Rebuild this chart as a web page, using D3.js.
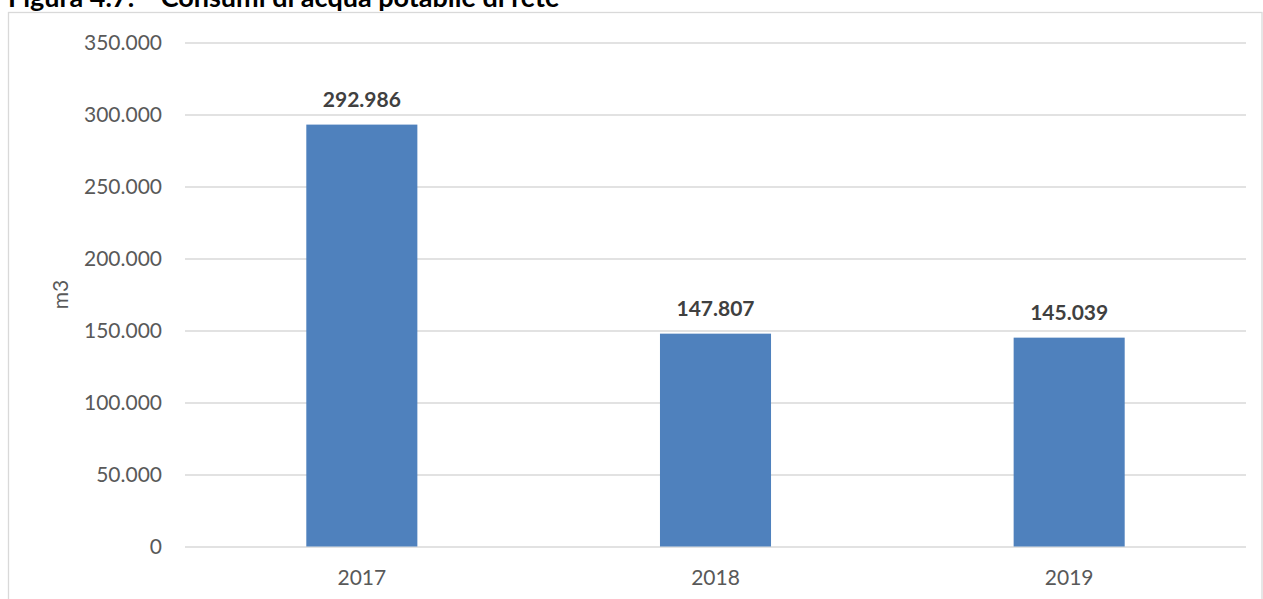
<!DOCTYPE html>
<html>
<head>
<meta charset="utf-8">
<script src="https://cdn.jsdelivr.net/npm/d3@7"></script>
<style>
  html, body { margin: 0; padding: 0; background: #ffffff; }
  svg { display: block; font-family: Lato, "Open Sans", sans-serif; }
</style>
</head>
<body>
<svg id="chart" width="1263" height="599"></svg>
<script>
// Consumi di acqua potabile di rete (m3)
const years = ["2017", "2018", "2019"];
const consumi = [292986, 147807, 145039];
const yTicks = [0, 50000, 100000, 150000, 200000, 250000, 300000, 350000];
const titolo = "Figura 4.7:    Consumi di acqua potabile di rete";
const unita = "m3";

const W = 1263, H = 599;
const plot = { left: 185, right: 1246, top: 42.5, bottom: 546.5 };

const it = d3.formatLocale({ decimal: ",", thousands: ".", grouping: [3], currency: ["€", ""] });
const fmt = it.format(",d");

const svg = d3.select("#chart");

// chart frame
svg.append("rect")
  .attr("x", 8.5).attr("y", 12.5)
  .attr("width", 1253.5).attr("height", H)
  .attr("fill", "#ffffff")
  .attr("stroke", "#d9d9d9").attr("stroke-width", 1.3);

// caption above the frame
svg.append("text")
  .attr("x", 8).attr("y", 7)
  .attr("font-size", 27).attr("font-weight", "bold")
  .attr("fill", "#000000")
  .style("white-space", "pre")
  .attr("xml:space", "preserve")
  .text(titolo);

const x = d3.scaleBand()
  .domain(years)
  .range([plot.left, plot.right])
  .paddingInner(0.686)
  .paddingOuter(0.343);

const y = d3.scaleLinear()
  .domain([0, 350000])
  .range([plot.bottom, plot.top]);

// gridlines + value axis labels
const yAxis = d3.axisLeft(y)
  .tickValues(yTicks)
  .tickFormat(fmt)
  .tickSize(-(plot.right - plot.left))
  .tickPadding(23);

const gy = svg.append("g")
  .attr("transform", `translate(${plot.left},0)`)
  .call(yAxis);
gy.select(".domain").remove();
gy.selectAll(".tick line").attr("stroke", "#d9d9d9").attr("stroke-width", 1.4);
gy.selectAll(".tick text")
  .attr("font-size", 21)
  .attr("font-family", "Lato, sans-serif")
  .attr("fill", "#595959");

// bars
svg.append("g").selectAll("rect")
  .data(years)
  .join("rect")
  .attr("x", d => x(d))
  .attr("width", x.bandwidth())
  .attr("y", (d, i) => y(consumi[i]))
  .attr("height", (d, i) => y(0) - y(consumi[i]))
  .attr("fill", "#4f81bd");

// value labels
svg.append("g").selectAll("text")
  .data(years)
  .join("text")
  .attr("x", d => x(d) + x.bandwidth() / 2)
  .attr("y", (d, i) => y(consumi[i]) - 18)
  .attr("text-anchor", "middle")
  .attr("font-size", 21)
  .attr("font-weight", "bold")
  .attr("fill", "#404040")
  .text((d, i) => fmt(consumi[i]));

// category axis
const xAxis = d3.axisBottom(x).tickSize(0).tickPadding(24);
const gx = svg.append("g")
  .attr("transform", `translate(0,${plot.bottom})`)
  .call(xAxis);
gx.select(".domain").remove();
gx.selectAll(".tick text")
  .attr("font-size", 21)
  .attr("font-family", "Lato, sans-serif")
  .attr("fill", "#595959");

// unit label, centred on the plot area
svg.append("text")
  .attr("transform", `translate(68,${(plot.top + plot.bottom) / 2}) rotate(-90)`)
  .attr("text-anchor", "middle")
  .attr("font-size", 21)
  .attr("fill", "#595959")
  .text(unita);
</script>
</body>
</html>
